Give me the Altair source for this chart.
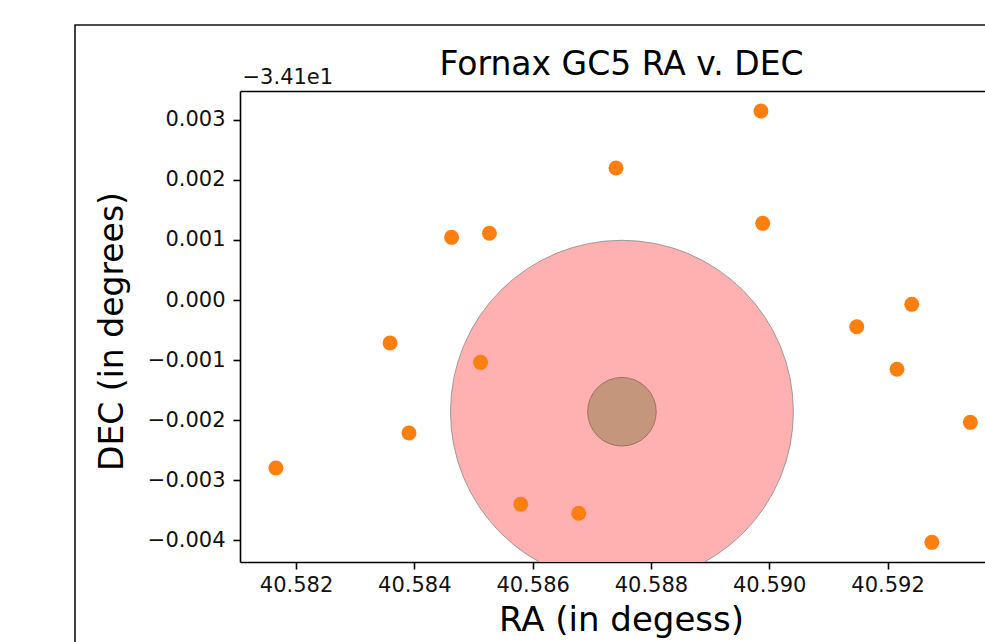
import altair as alt
import pandas as pd

# RA (degrees) and DEC offset from -34.1 (degrees) of the sources
ra = [40.58166, 40.58359, 40.58391, 40.58463, 40.58527, 40.58512, 40.58580,
      40.58678, 40.58741, 40.58986, 40.58989, 40.59148, 40.59216, 40.59241,
      40.59275, 40.59340]
dec_off = [-0.002795, -0.000715, -0.002213, 0.001043, 0.001110, -0.001037,
           -0.003399, -0.003549, 0.002196, 0.003145, 0.001276, -0.000444,
           -0.001153, -0.000072, -0.004032, -0.002035]

# cluster centre
center_ra = [40.58751]
center_dec_off = [-0.001859]

x_ticks = [40.582, 40.584, 40.586, 40.588, 40.590, 40.592]
y_ticks = [-0.004, -0.003, -0.002, -0.001, 0.0, 0.001, 0.002, 0.003]

pts = pd.DataFrame({"ra": ra, "dec": dec_off})
ctr = pd.DataFrame({"ra": center_ra, "dec": center_dec_off})

FONT = "DejaVu Sans"
xscale = alt.Scale(domain=[40.581053, 40.593648], nice=False, zero=False)
yscale = alt.Scale(domain=[-0.004359, 0.003478], nice=False, zero=False)

yaxis = alt.Axis(values=y_ticks, format=".3f", grid=False,
                 title="DEC (in degrees)", titleFont=FONT, titleFontSize=33,
                 titleFontWeight="normal", titleColor="black",
                 titleX=-118, titleY=240, titleAngle=270, titleAlign="center",
                 titleBaseline="alphabetic",
                 labelFont=FONT, labelFontSize=21, labelColor="#111111",
                 labelPadding=8, tickSize=7, tickWidth=1.6, tickColor="black",
                 domainColor="black", domainWidth=1.6)

xaxis_bottom = alt.Axis(values=x_ticks, format=".3f", grid=False, orient="bottom",
                        title="RA (in degess)", titleFont=FONT, titleFontSize=34,
                        titleFontWeight="normal", titleColor="black",
                        titleX=381, titleY=68, titleAlign="center",
                        titleBaseline="alphabetic",
                        labelFont=FONT, labelFontSize=21, labelColor="#111111",
                        labelPadding=5, tickSize=7, tickWidth=1.6, tickColor="black",
                        domainColor="black", domainWidth=1.6)

xaxis_top = alt.Axis(orient="top", grid=False, labels=False, ticks=False,
                     title="\u22123.41e1", titleFont=FONT, titleFontSize=21,
                     titleFontWeight="normal", titleColor="#111111",
                     titleX=2, titleY=-8, titleAlign="left",
                     titleBaseline="alphabetic",
                     domainColor="black", domainWidth=1.6)

frame = alt.Chart(ctr).mark_rect(filled=False, stroke="#111111", strokeWidth=1.6).encode(
    x=alt.value(-165), x2=alt.value(900), y=alt.value(-66), y2=alt.value(700)
)

big = alt.Chart(ctr).mark_circle(size=117600, color="#ffb0b0", opacity=1,
                                 stroke="#8a8a8a", strokeWidth=1, strokeOpacity=0.8,
                                 clip=True).encode(
    x=alt.X("ra:Q", scale=xscale, axis=xaxis_top),
    y=alt.Y("dec:Q", scale=yscale, axis=yaxis),
)

small = alt.Chart(ctr).mark_circle(size=4700, color="#c4977c", opacity=1,
                                   stroke="#a0705f", strokeWidth=1).encode(
    x=alt.X("ra:Q", scale=xscale, axis=None),
    y=alt.Y("dec:Q", scale=yscale, axis=yaxis),
)

dots = alt.Chart(pts).mark_circle(size=225, color="#ff7f0e", opacity=1).encode(
    x=alt.X("ra:Q", scale=xscale, axis=xaxis_bottom),
    y=alt.Y("dec:Q", scale=yscale, axis=yaxis),
)

chart = alt.layer(frame, big, small, dots).resolve_axis(x="independent").properties(
    width=745, height=471,
    autosize=alt.AutoSizeParams(type="none"),
    padding={"left": 240, "top": 91, "right": 0, "bottom": 80},
    background="white",
    title=alt.TitleParams("Fornax GC5 RA v. DEC", font=FONT, fontSize=33,
                          fontWeight="normal", color="black", anchor="middle",
                          frame="group", dx=9, dy=84, offset=0, baseline="alphabetic"),
).configure_view(stroke=None)

chart.save("out.html", embed_options={"renderer": "svg", "actions": False})
